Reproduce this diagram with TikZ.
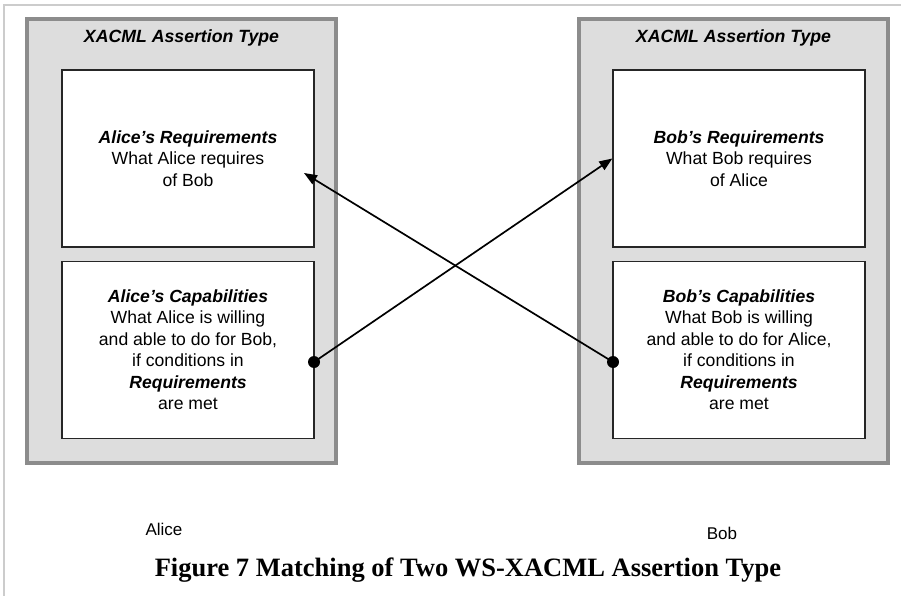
\documentclass[tikz,border=0pt]{standalone}
\usepackage{fontspec}
\setmainfont{Liberation Serif}
\setsansfont{Liberation Sans}
\usetikzlibrary{positioning, arrows.meta}
\definecolor{framegray}{HTML}{CCCCCC}
\definecolor{edgegray}{HTML}{8C8C8C}
\definecolor{fillgray}{HTML}{DDDDDD}

\tikzset{
  assertion/.style={draw=edgegray, line width=4pt, fill=fillgray,
    minimum width=309pt, minimum height=444pt, inner sep=0pt},
  part/.style={draw=black!85, line width=1.4pt, fill=white, align=center,
    minimum width=252pt, minimum height=177pt, inner sep=0pt,
    font=\sffamily\fontsize{17.6}{21.5}\selectfont},
  heading/.style={font=\sffamily\bfseries\itshape\fontsize{17.7}{21}\selectfont},
  who/.style={font=\sffamily\fontsize{17}{20}\selectfont},
  caption/.style={font=\rmfamily\bfseries\fontsize{26.5}{30}\selectfont},
  link/.style={->, line width=1.7pt},
}

\begin{document}
\begin{tikzpicture}[x=1pt, y=-1pt, >={Triangle[length=13pt, width=10pt]}, node distance=13pt]
  \useasboundingbox (0,0) rectangle (901,596);
  \draw[framegray, line width=2pt] (4,596) -- (4,5) -- (901,5);

  % Alice
  \node[assertion] (boxA) at (181.5,241) {};
  \node[heading] (titleA) at (181.5,38) {XACML Assertion Type};
  \node[part] (reqA) at (188,158.5) {\textbf{\textit{Alice’s Requirements}}\\What Alice requires\\of Bob};
  \node[part, below=of reqA] (capA) {\textbf{\textit{Alice’s Capabilities}}\\What Alice is willing\\and able to do for Bob,\\if conditions in\\\textbf{\textit{Requirements}}\\are met};

  % Bob
  \node[assertion] (boxB) at (733.5,241) {};
  \node[heading] (titleB) at (733.5,38) {XACML Assertion Type};
  \node[part] (reqB) at (739,158.5) {\textbf{\textit{Bob’s Requirements}}\\What Bob requires\\of Alice};
  \node[part, below=of reqB] (capB) {\textbf{\textit{Bob’s Capabilities}}\\What Bob is willing\\and able to do for Alice,\\if conditions in\\\textbf{\textit{Requirements}}\\are met};

  % matching
  \coordinate (dotA) at (314,362);
  \coordinate (dotB) at (613,362);
  \coordinate (tipA) at (304,173);
  \fill (dotA) circle (6pt);
  \fill (dotB) circle (6pt);
  \draw[link] (dotA) -- (reqB.west);
  \draw[link] (dotB) -- (tipA);

  \node[who] (nameA) at (164,529) {Alice};
  \node[who] (nameB) at (722,533) {Bob};
  \node[caption] (fig) at (468,570) {Figure 7 Matching of Two WS-XACML Assertion Type};
\end{tikzpicture}
\end{document}
